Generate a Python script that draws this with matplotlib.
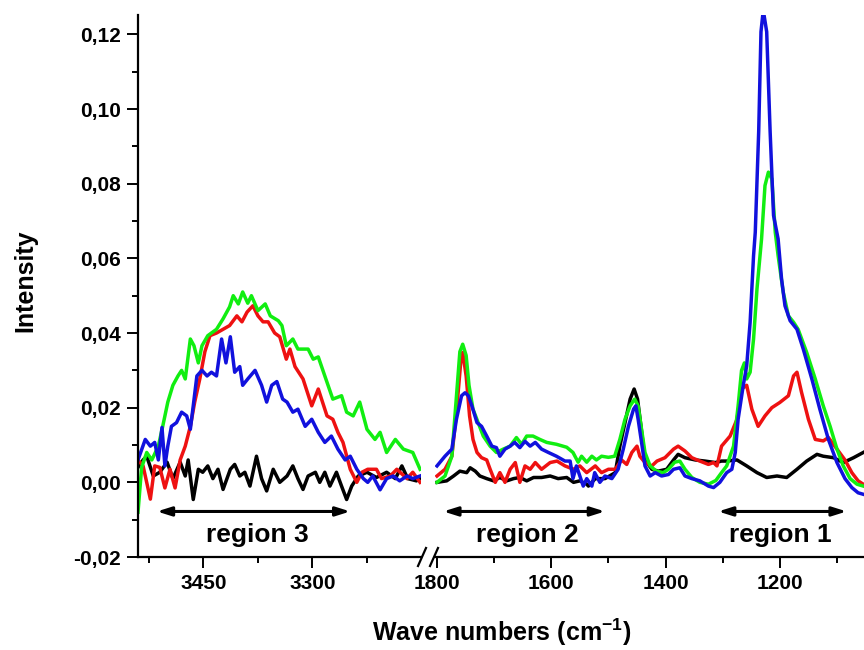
import matplotlib
matplotlib.use("Agg")
import matplotlib.pyplot as plt
from matplotlib.ticker import FixedLocator, FuncFormatter, FormatStrFormatter
from matplotlib.lines import Line2D

# 字体
plt.rcParams['font.family'] = ['Liberation Sans', 'DejaVu Sans']
plt.rcParams['font.weight'] = 'bold'
plt.rcParams['axes.unicode_minus'] = False
plt.rcParams['mathtext.fontset'] = 'custom'
plt.rcParams['mathtext.rm'] = 'Liberation Sans:bold'
plt.rcParams['mathtext.bf'] = 'Liberation Sans:bold'
plt.rcParams['mathtext.default'] = 'bf'

# ---- data: high wavenumber part (3540-3150 cm-1) ----
black_hi_x = [3540, 3533, 3528, 3519, 3510, 3500, 3492, 3482, 3475, 3471, 3464, 3457, 3451, 3444,
              3437, 3430, 3423, 3413, 3407, 3400, 3393, 3386, 3377, 3370, 3363, 3354, 3345, 3335,
              3327, 3320, 3313, 3306, 3296, 3290, 3283, 3276, 3267, 3260, 3253, 3246, 3237, 3225,
              3212, 3198, 3186, 3177, 3169, 3157, 3152]
black_hi_y = [0.004, 0.006, 0.007, 0.0017, 0.0027, 0.0054, 0.001, 0.0054, 0.0017, 0.006, -0.0046,
              0.0035, 0.0027, 0.0044, 0.001, 0.0035, -0.0019, 0.0035, 0.0048, 0.0017, 0.0027, -0.001,
              0.007, 0.001, -0.0023, 0.0035, 0.0, 0.0017, 0.0044, 0.001, -0.0019, 0.0017, 0.0027, 0.0,
              0.0027, -0.001, 0.0027, -0.001, -0.0046, -0.001, 0.0017, 0.0027, 0.0013, 0.0027, 0.001,
              0.0044, 0.001, 0.0004, 0.001]

red_hi_x = [3540, 3533, 3523, 3517, 3510, 3503, 3496, 3489, 3482, 3475, 3468, 3462, 3455, 3448,
            3441, 3432, 3423, 3414, 3404, 3397, 3390, 3382, 3375, 3368, 3361, 3352, 3345, 3336,
            3331, 3324, 3313, 3301, 3292, 3280, 3272, 3265, 3258, 3248, 3239, 3232, 3224, 3212,
            3205, 3193, 3184, 3170, 3162, 3152]
red_hi_y = [0.006, 0.0044, -0.0045, 0.0044, 0.004, -0.0015, 0.0035, -0.0015, 0.006, 0.0097, 0.015,
            0.0215, 0.0277, 0.035, 0.0393, 0.040, 0.041, 0.042, 0.0446, 0.043, 0.0456, 0.0473,
            0.0446, 0.043, 0.043, 0.040, 0.039, 0.033, 0.0357, 0.031, 0.0277, 0.0205, 0.025, 0.0178,
            0.0169, 0.0134, 0.0107, 0.0035, 0.0, 0.0027, 0.0035, 0.0035, 0.001, 0.0017, 0.0035,
            0.001, 0.0027, 0.0]

green_hi_x = [3540, 3535, 3528, 3521, 3512, 3506, 3499, 3492, 3485, 3480, 3475, 3468, 3463, 3457,
              3452, 3444, 3432, 3423, 3414, 3409, 3402, 3396, 3389, 3384, 3375, 3365, 3358, 3347,
              3342, 3336, 3327, 3320, 3306, 3299, 3292, 3283, 3272, 3260, 3253, 3244, 3235, 3225,
              3214, 3207, 3198, 3186, 3175, 3162, 3152]
green_hi_y = [-0.008, 0.004, 0.008, 0.006, 0.0097, 0.015, 0.0215, 0.026, 0.0285, 0.030, 0.0277,
              0.0384, 0.0366, 0.032, 0.0366, 0.0393, 0.041, 0.0438, 0.047, 0.050, 0.0478, 0.051,
              0.048, 0.050, 0.046, 0.0478, 0.0446, 0.0433, 0.042, 0.0366, 0.0384, 0.0357, 0.0357,
              0.033, 0.0336, 0.0285, 0.0223, 0.0232, 0.0188, 0.0178, 0.0215, 0.0142, 0.0115, 0.0134,
              0.008, 0.0115, 0.0089, 0.008, 0.0035]

blue_hi_x = [3540, 3530, 3523, 3517, 3512, 3507, 3503, 3499, 3494, 3487, 3480, 3473, 3468, 3464,
             3459, 3452, 3445, 3439, 3432, 3425, 3419, 3413, 3407, 3400, 3396, 3389, 3379, 3370,
             3363, 3356, 3349, 3341, 3335, 3327, 3320, 3310, 3301, 3292, 3283, 3274, 3265, 3255,
             3248, 3239, 3230, 3224, 3217, 3207, 3198, 3189, 3180, 3170, 3162, 3152]
blue_hi_y = [0.006, 0.0115, 0.0097, 0.0107, 0.006, 0.0147, 0.0044, 0.0097, 0.015, 0.016, 0.0188,
             0.0178, 0.0142, 0.0205, 0.0285, 0.030, 0.0285, 0.0295, 0.0285, 0.0384, 0.032, 0.039,
             0.0295, 0.031, 0.026, 0.0277, 0.030, 0.026, 0.0215, 0.026, 0.027, 0.0223, 0.0215,
             0.0188, 0.0196, 0.015, 0.0169, 0.0134, 0.0107, 0.0124, 0.0089, 0.006, 0.007, 0.0035,
             0.001, 0.0, 0.0017, -0.002, 0.001, 0.0017, 0.0004, 0.0017, 0.001, 0.0017]

# ---- data: low wavenumber part (1800-1053 cm-1) ----
black_lo_x = [1800, 1783, 1771, 1760, 1748, 1742, 1733, 1725, 1713, 1701, 1690, 1678, 1666, 1655,
              1643, 1631, 1617, 1602, 1588, 1573, 1561, 1550, 1538, 1535, 1523, 1506, 1488, 1480,
              1471, 1462, 1455, 1449, 1443, 1436, 1424, 1413, 1398, 1386, 1378, 1366, 1348, 1331,
              1313, 1302, 1293, 1275, 1258, 1240, 1223, 1205, 1188, 1170, 1153, 1135, 1124, 1106,
              1089, 1071, 1054]
black_lo_y = [0.0, 0.0004, 0.0017, 0.003, 0.0026, 0.0039, 0.003, 0.0017, 0.001, 0.0004, 0.0013,
              0.0004, 0.001, 0.0013, 0.0004, 0.0013, 0.0013, 0.0017, 0.001, 0.0013, 0.0, 0.0004,
              -0.0005, -0.001, 0.001, 0.001, 0.0026, 0.0097, 0.016, 0.0223, 0.025, 0.0223, 0.015,
              0.006, 0.0035, 0.003, 0.0035, 0.006, 0.0075, 0.0066, 0.006, 0.0057, 0.0053, 0.0057,
              0.0057, 0.006, 0.0044, 0.0026, 0.0013, 0.0017, 0.0013, 0.0035, 0.0057, 0.0075, 0.007,
              0.0066, 0.0053, 0.0066, 0.008]

red_lo_x = [1800, 1786, 1774, 1766, 1758, 1755, 1749, 1743, 1737, 1730, 1722, 1713, 1707, 1698,
            1690, 1681, 1672, 1663, 1655, 1646, 1637, 1628, 1617, 1602, 1590, 1576, 1561, 1550,
            1538, 1523, 1512, 1500, 1488, 1477, 1468, 1459, 1450, 1445, 1436, 1424, 1415, 1401,
            1386, 1378, 1366, 1354, 1340, 1325, 1316, 1310, 1302, 1287, 1275, 1267, 1258, 1249,
            1238, 1226, 1214, 1200, 1185, 1176, 1170, 1162, 1150, 1138, 1124, 1115, 1100, 1086,
            1074, 1063, 1054]
red_lo_y = [0.0017, 0.0035, 0.007, 0.0187, 0.033, 0.0348, 0.0285, 0.0178, 0.0115, 0.008, 0.0066,
            0.006, 0.0035, 0.0, 0.0026, 0.0, 0.0035, 0.0053, 0.0, 0.0044, 0.0035, 0.0053, 0.0035,
            0.0053, 0.0057, 0.0044, 0.0035, 0.0044, 0.0026, 0.0044, 0.0026, 0.0035, 0.0035, 0.006,
            0.0048, 0.008, 0.0097, 0.007, 0.0053, 0.0044, 0.0057, 0.0066, 0.0089, 0.0097, 0.0084,
            0.0066, 0.0057, 0.0048, 0.0053, 0.0044, 0.0097, 0.0124, 0.0169, 0.025, 0.026, 0.0196,
            0.015, 0.0178, 0.020, 0.0214, 0.0232, 0.0285, 0.0295, 0.0241, 0.0169, 0.0115, 0.0111,
            0.012, 0.0089, 0.006, 0.0026, 0.0004, -0.0005]

green_lo_x = [1800, 1786, 1774, 1766, 1760, 1755, 1749, 1744, 1737, 1728, 1719, 1707, 1696, 1684,
              1672, 1661, 1652, 1643, 1632, 1620, 1608, 1591, 1573, 1562, 1553, 1547, 1538, 1529,
              1521, 1512, 1500, 1489, 1480, 1471, 1462, 1454, 1448, 1442, 1436, 1427, 1416, 1404,
              1395, 1384, 1375, 1366, 1354, 1340, 1325, 1312, 1302, 1293, 1281, 1273, 1267, 1262,
              1258, 1252, 1246, 1240, 1232, 1226, 1220, 1214, 1208, 1203, 1194, 1185, 1176, 1168,
              1153, 1138, 1124, 1112, 1100, 1089, 1077, 1065, 1054]
green_lo_y = [0.0, 0.0017, 0.007, 0.023, 0.035, 0.037, 0.034, 0.026, 0.0196, 0.016, 0.0124, 0.0097,
              0.008, 0.0089, 0.0097, 0.012, 0.0102, 0.0124, 0.0124, 0.0115, 0.0107, 0.0102, 0.0094,
              0.008, 0.0054, 0.007, 0.0054, 0.007, 0.006, 0.007, 0.0067, 0.007, 0.0115, 0.0169,
              0.0205, 0.0223, 0.0205, 0.0142, 0.008, 0.0044, 0.003, 0.0026, 0.0035, 0.0054, 0.0057,
              0.0035, 0.0013, 0.0, -0.0005, 0.0005, 0.0026, 0.0044, 0.0097, 0.0205, 0.030, 0.032,
              0.0277, 0.0295, 0.0384, 0.0518, 0.0652, 0.0795, 0.0831, 0.0813, 0.067, 0.0607, 0.0509,
              0.0446, 0.0429, 0.041, 0.0348, 0.0277, 0.0205, 0.015, 0.0089, 0.0044, 0.001, -0.0005,
              -0.001]

blue_lo_x = [1800, 1786, 1774, 1766, 1757, 1751, 1745, 1739, 1730, 1722, 1713, 1704, 1696, 1690,
             1681, 1672, 1664, 1655, 1646, 1637, 1628, 1617, 1605, 1591, 1576, 1567, 1562, 1556,
             1550, 1544, 1538, 1529, 1524, 1515, 1506, 1494, 1483, 1474, 1465, 1456, 1452, 1448,
             1442, 1436, 1427, 1418, 1407, 1395, 1386, 1375, 1366, 1354, 1340, 1325, 1316, 1305,
             1293, 1284, 1278, 1273, 1264, 1258, 1252, 1246, 1243, 1237, 1233, 1229, 1223, 1217,
             1211, 1203, 1197, 1191, 1182, 1170, 1159, 1144, 1130, 1115, 1100, 1086, 1074, 1063,
             1054]
blue_lo_y = [0.0044, 0.007, 0.0089, 0.0169, 0.0232, 0.024, 0.0232, 0.0205, 0.016, 0.015, 0.0124,
             0.0097, 0.0093, 0.007, 0.0089, 0.0097, 0.0107, 0.0093, 0.011, 0.0097, 0.0107, 0.0089,
             0.008, 0.007, 0.0057, 0.0057, 0.001, 0.0044, 0.0017, -0.001, 0.001, -0.001, 0.0026,
             0.0, 0.0017, 0.001, 0.0035, 0.0089, 0.015, 0.0196, 0.0205, 0.0169, 0.0107, 0.0044,
             0.0017, 0.0026, 0.0017, 0.0021, 0.0035, 0.0039, 0.0017, 0.001, 0.0004, -0.001, -0.0014,
             0.0, 0.0026, 0.0035, 0.008, 0.0169, 0.026, 0.0312, 0.0429, 0.0607, 0.067, 0.094,
             0.1207, 0.1265, 0.1207, 0.094, 0.0715, 0.0652, 0.0545, 0.0473, 0.0433, 0.041, 0.0357,
             0.0277, 0.0196, 0.0115, 0.0053, 0.001, -0.0014, -0.0028, -0.0032]

regions = ['region 3', 'region 2', 'region 1']
region_hi = [(3514, 3248, 3376)]
region_lo = [(1789, 1506, 1642), (1308, 1083, 1200)]

colors = {'black': '#000000', 'red': '#ee1111', 'green': '#11ee11', 'blue': '#1111dd'}

fig = plt.figure(figsize=(8.64, 6.5), dpi=100)
ax1 = fig.add_axes([138/864, 93/650, 283/864, 542/650])
ax2 = fig.add_axes([435/864, 93/650, 429/864, 542/650])

lw = 2.5
for ax, data in [(ax1, [(black_hi_x, black_hi_y, 'black'), (red_hi_x, red_hi_y, 'red'),
                        (green_hi_x, green_hi_y, 'green'), (blue_hi_x, blue_hi_y, 'blue')]),
                 (ax2, [(black_lo_x, black_lo_y, 'black'), (red_lo_x, red_lo_y, 'red'),
                        (green_lo_x, green_lo_y, 'green'), (blue_lo_x, blue_lo_y, 'blue')])]:
    for x, y, c in data:
        ax.plot(x, y, color=colors[c], lw=lw, solid_joinstyle='round')

ax1.set_xlim(3540, 3150.7)
ax2.set_xlim(1803.5, 1052.7)
for ax in (ax1, ax2):
    ax.set_ylim(-0.02, 0.1252)
    ax.spines['top'].set_visible(False)
    ax.spines['right'].set_visible(False)
    ax.spines['bottom'].set_linewidth(1.6)
    ax.spines['left'].set_linewidth(1.6)
    ax.tick_params(which='major', direction='out', length=8, width=1.4, labelsize=15, pad=4)
    ax.tick_params(which='minor', direction='out', length=4.5, width=1.4)
    ax.patch.set_alpha(0)

ax2.spines['left'].set_visible(False)
ax2.tick_params(axis='y', which='both', left=False, labelleft=False)

# y轴
ax1.yaxis.set_major_locator(FixedLocator([-0.02, 0.0, 0.02, 0.04, 0.06, 0.08, 0.10, 0.12]))
ax1.yaxis.set_minor_locator(FixedLocator([-0.01, 0.01, 0.03, 0.05, 0.07, 0.09, 0.11]))
ax1.yaxis.set_major_formatter(FuncFormatter(
    lambda v, p: ('%.2f' % (0.0 if abs(v) < 1e-9 else v)).replace('.', ',')))

# x轴
ax1.xaxis.set_major_locator(FixedLocator([3450, 3300]))
ax1.xaxis.set_minor_locator(FixedLocator([3525, 3375, 3225]))
ax2.xaxis.set_major_locator(FixedLocator([1800, 1600, 1400, 1200]))
ax2.xaxis.set_minor_locator(FixedLocator([1700, 1500, 1300, 1100]))
for ax in (ax1, ax2):
    ax.xaxis.set_major_formatter(FormatStrFormatter('%d'))

# 区域箭头和文字
arrow_y = -0.0078
text_y = -0.0142
arrow_kw = dict(arrowstyle='<|-|>,head_length=0.7,head_width=0.22', color='black', lw=2.2,
                mutation_scale=12, shrinkA=0, shrinkB=0)
for (x0, x1, xc), name in zip(region_hi, regions[:1]):
    ax1.annotate('', xy=(x0, arrow_y), xytext=(x1, arrow_y), arrowprops=arrow_kw)
    ax1.text(xc, text_y, name, ha='center', va='center', fontsize=19, fontweight='bold')
for (x0, x1, xc), name in zip(region_lo, regions[1:]):
    ax2.annotate('', xy=(x0, arrow_y), xytext=(x1, arrow_y), arrowprops=arrow_kw)
    ax2.text(xc, text_y, name, ha='center', va='center', fontsize=19, fontweight='bold')

# 断轴标记
yb = 93/650
for xc in (422/864, 434/864):
    fig.add_artist(Line2D([xc - 4/864, xc + 4/864], [yb - 9/650, yb + 9/650],
                          color='black', lw=1.6, transform=fig.transFigure))

# 标题及轴标签
fig.text(502/864, 1 - 632/650, 'Wave numbers (cm$^{-1}$)', ha='center', va='center',
         fontsize=18, fontweight='bold')
fig.text(25/864, 1 - 281/650, 'Intensity', ha='center', va='center', rotation=90,
         fontsize=18, fontweight='bold')

plt.savefig('out.png', dpi=100)
